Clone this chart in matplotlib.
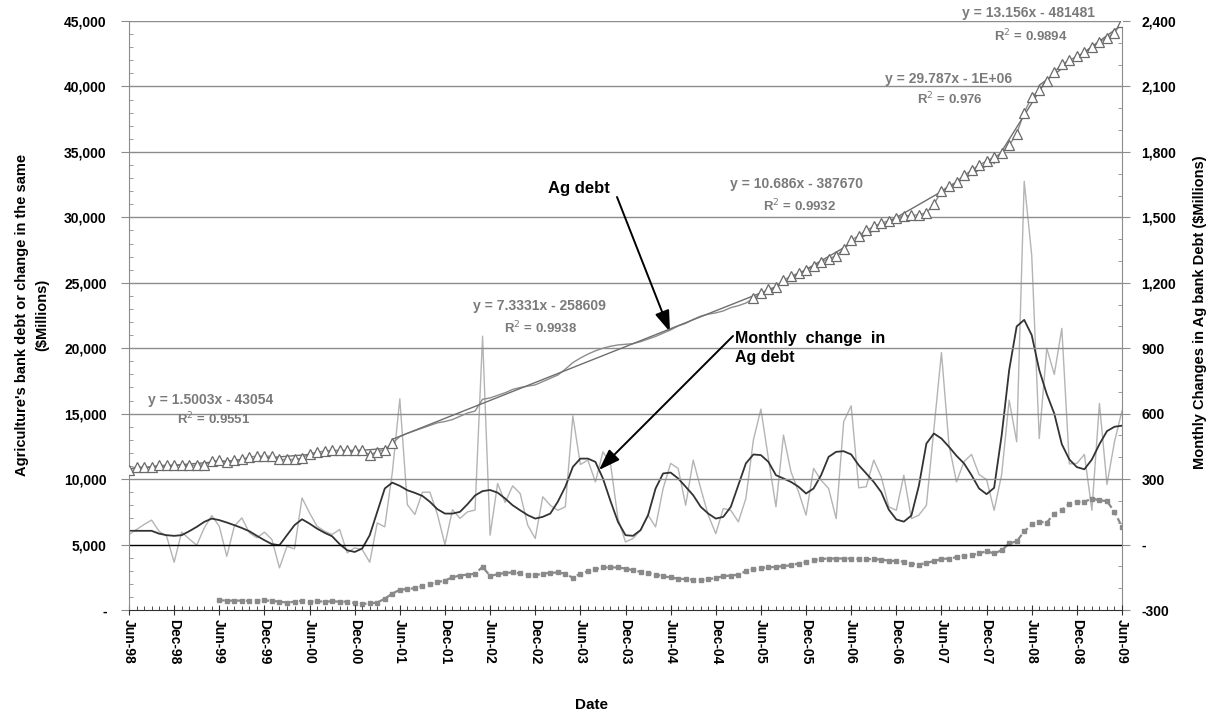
import numpy as np
import matplotlib
matplotlib.use("Agg")
import matplotlib.pyplot as plt
from matplotlib.ticker import MultipleLocator

plt.rcParams['font.family'] = ['Liberation Sans', 'DejaVu Sans']

# ---------------- data (monthly, Jun-98 .. Jun-09) ----------------
tick_labels = ['Jun-98', 'Dec-98', 'Jun-99', 'Dec-99', 'Jun-00', 'Dec-00', 'Jun-01', 'Dec-01',
               'Jun-02', 'Dec-02', 'Jun-03', 'Dec-03', 'Jun-04', 'Dec-04', 'Jun-05', 'Dec-05',
               'Jun-06', 'Dec-06', 'Jun-07', 'Dec-07', 'Jun-08', 'Dec-08', 'Jun-09']

ag_debt = [10700, 10950, 10900, 10950, 11050, 11050, 11050, 11050, 11050, 11050,
           11100, 11350, 11450, 11300, 11450, 11500, 11700, 11750, 11750, 11750,
           11500, 11500, 11500, 11600, 11950, 12050, 12150, 12200, 12200, 12200,
           12200, 12200, 11850, 12100, 12250, 12750, 13250, 13500, 13700, 13900,
           14100, 14300, 14400, 14550, 14800, 15050, 15200, 16100, 16200, 16400,
           16600, 16850, 17000, 17100, 17200, 17450, 17700, 17950, 18400, 18900,
           19250, 19550, 19800, 20000, 20150, 20250, 20300, 20350, 20500, 20700,
           20900, 21150, 21400, 21700, 21900, 22200, 22450, 22600, 22700, 22850,
           23100, 23250, 23450, 23800, 24200, 24500, 24700, 25200, 25500, 25750,
           25950, 26250, 26550, 26850, 27050, 27600, 28250, 28600, 29000, 29300,
           29550, 29750, 29950, 30100, 30150, 30200, 30350, 31000, 32000, 32400,
           32700, 33200, 33600, 34000, 34300, 34600, 34900, 35500, 36400, 38000,
           39200, 39700, 40400, 41100, 41700, 42000, 42300, 42600, 43000, 43400,
           43700, 44100, 44900]

monthly_change = [46, 69, 92, 112, 61, 38, -81, 57, 26, -3,
                  76, 133, 84, -54, 84, 122, 54, 31, 57, 23,
                  -107, -8, -20, 214, 145, 84, 61, 46, 69, -38,
                  -15, -23, -81, 99, 81, 330, 668, 183, 138, 240,
                  240, 138, 0, 160, 120, 150, 158, 955, 43, 280,
                  193, 269, 234, 89, 28, 219, 180, 157, 173, 590,
                  367, 387, 287, 425, 372, 119, 12, 28, 66, 135,
                  81, 257, 372, 349, 180, 387, 257, 135, 50, 165,
                  157, 104, 211, 479, 621, 394, 173, 502, 333, 242,
                  135, 349, 295, 257, 119, 563, 636, 260, 265, 387,
                  310, 173, 157, 318, 119, 135, 180, 532, 880, 456,
                  287, 380, 413, 321, 298, 157, 320, 662, 471, 1665,
                  1326, 486, 900, 780, 991, 370, 372, 413, 157, 647,
                  275, 471, 613]

change_smoothed = [63, 63, 63, 63, 50, 43, 40, 43, 61, 81,
                   104, 119, 112, 101, 89, 76, 61, 40, 20, 2,
                   -3, 43, 89, 116, 96, 73, 54, 38, 2, -26,
                   -34, -18, 43, 150, 257, 284, 269, 249, 237, 223,
                   196, 162, 142, 142, 150, 185, 225, 245, 250, 238,
                   211, 180, 157, 135, 119, 127, 142, 196, 265, 356,
                   394, 394, 379, 303, 200, 104, 43, 40, 66, 135,
                   257, 326, 330, 303, 265, 226, 173, 142, 119, 127,
                   173, 272, 372, 413, 410, 379, 318, 303, 287, 265,
                   234, 257, 318, 402, 425, 428, 413, 364, 326, 287,
                   240, 160, 115, 105, 133, 270, 463, 509, 486, 448,
                   407, 372, 318, 257, 231, 260, 500, 800, 1000, 1030,
                   960, 800, 690, 600, 460, 390, 355, 345, 390, 460,
                   520, 540, 545]

# 12-month series (starts Jun-99)
change_12m_start = 12
change_12m = [-255, -257, -257, -257, -258, -257, -256, -258, -262, -266,
              -262, -258, -262, -260, -262, -260, -262, -262, -268, -272,
              -270, -266, -248, -225, -207, -204, -200, -190, -180, -172,
              -165, -150, -142, -138, -134, -102, -144, -136, -130, -128,
              -132, -138, -141, -133, -130, -128, -133, -153, -133, -122,
              -113, -105, -105, -105, -110, -118, -125, -130, -138, -145,
              -151, -156, -159, -161, -162, -159, -153, -145, -142, -138,
              -122, -113, -107, -105, -102, -99, -95, -87, -80, -72,
              -66, -64, -64, -64, -64, -66, -67, -67, -69, -74,
              -76, -78, -88, -92, -84, -76, -66, -64, -58, -52,
              -48, -41, -30, -41, -26, 5, 15, 60, 92, 104,
              101, 142, 157, 188, 196, 196, 211, 203, 199, 150,
              81]

# trend segments (first month index, last month index) and their labels
trend_segments = [(0, 35), (35, 84), (84, 115), (115, 122), (121, 132)]
trend_eq = ['y = 1.5003x - 43054', 'y = 7.3331x - 258609', 'y = 10.686x - 387670',
            'y = 29.787x - 1E+06', 'y = 13.156x - 481481']
trend_r2 = ['0.9551', '0.9938', '0.9932', '0.976', '0.9894']

# months with triangle markers
marker_ranges = [(0, 35), (83, 132)]

# ---------------- figure ----------------
W, H = 1218, 722
fig = plt.figure(figsize=(W / 100, H / 100), dpi=100)
ax = fig.add_axes([129 / W, 1 - 610 / H, (1122 - 129) / W, (610 - 21) / H])
ax2 = ax.twinx()

n = len(ag_debt)
x = np.arange(n)

GRID = '#8c8c8c'
for v in range(5000, 45001, 5000):
    ax.axhline(v, color='black' if v == 5000 else GRID, lw=1.0, zorder=0.5)

# monthly change (right axis)
ax2.plot(x, monthly_change, color='#b4b4b4', lw=1.0, zorder=2)
ax2.plot(x, change_smoothed, color='#333333', lw=1.3, zorder=3)
x12 = np.arange(change_12m_start, change_12m_start + len(change_12m))
ax2.plot(x12, change_12m, color='#8a8a8a', lw=1.6, ls=(0, (2.5, 1.5)), marker='s',
         ms=3.5, mfc='#8a8a8a', mec='#8a8a8a', zorder=3)

ax.set_zorder(ax2.get_zorder() + 1)
ax.patch.set_visible(False)
ax2.patch.set_visible(True)

ag = np.array(ag_debt, dtype=float)
ax.plot(x, ag, color='#8c8c8c', lw=1.0, zorder=3)
for a, b in marker_ranges:
    ax.plot(x[a:b + 1], ag[a:b + 1], ls='none', marker='^', ms=6.5, mfc='white',
            mec='#6a6a6a', mew=0.9, zorder=4)
for a, b in trend_segments:
    xs = x[a:b + 1]
    coef = np.polyfit(xs, ag[a:b + 1], 1)
    ax.plot(xs, np.polyval(coef, xs), color='#6e6e6e', lw=1.0, zorder=3.5)

# trendline labels
eq_pos = [(211, 400, 214, 419), (539, 306, 541, 328), (797, 184, 800, 206),
          (949, 79, 950, 99), (1028, 13, 1031, 36)]
EQC = '#7a7a7a'
for (ex, ey, rx, ry), eq, r2 in zip(eq_pos, trend_eq, trend_r2):
    fig.text(ex / W, 1 - ey / H, eq, color=EQC, fontsize=10, fontweight='bold',
             ha='center', va='center')
    fig.text(rx / W, 1 - ry / H, r'R$^{2}$ = ' + r2, color=EQC, fontsize=9.5,
             fontweight='bold', ha='center', va='center')

# annotations
fig.text(579 / W, 1 - 188 / H, 'Ag debt', fontsize=12, fontweight='bold',
         ha='center', va='center')
ax.annotate('', xy=(670 / W, 1 - 332 / H), xytext=(617 / W, 1 - 197 / H),
            xycoords='figure fraction', textcoords='figure fraction',
            arrowprops=dict(arrowstyle='-|>,head_length=1.3,head_width=0.45', color='black',
                            lw=1.4, shrinkA=0, shrinkB=0))
fig.text(735 / W, 1 - 348 / H, 'Monthly  change  in\nAg debt', fontsize=11.5,
         fontweight='bold', ha='left', va='center', linespacing=1.35)
ax.annotate('', xy=(599 / W, 1 - 470 / H), xytext=(733 / W, 1 - 336 / H),
            xycoords='figure fraction', textcoords='figure fraction',
            arrowprops=dict(arrowstyle='-|>,head_length=1.3,head_width=0.45', color='black',
                            lw=1.4, shrinkA=0, shrinkB=0))

# ---------------- axes ----------------
ax.set_xlim(0, n - 1)
ax.set_ylim(0, 45000)
ax2.set_ylim(-300, 2400)

l_ticks = list(range(0, 45001, 5000))
ax.set_yticks(l_ticks)
ax.set_yticklabels(['-' if v == 0 else f'{v:,}' for v in l_ticks])
ax.yaxis.set_minor_locator(MultipleLocator(1000))

r_ticks = list(range(-300, 2401, 300))
ax2.set_yticks(r_ticks)
ax2.set_yticklabels(['-' if v == 0 else f'{v:,}' for v in r_ticks])
ax2.yaxis.set_minor_locator(MultipleLocator(100))

ax.set_xticks(np.arange(0, n, 6))
ax.set_xticklabels(tick_labels, rotation=270)
ax.xaxis.set_minor_locator(MultipleLocator(1))

for a_ in (ax, ax2):
    for s in a_.spines.values():
        s.set_visible(False)
ax.spines['left'].set_visible(True)
ax.spines['left'].set_color(GRID)
ax.spines['bottom'].set_visible(True)
ax.spines['bottom'].set_color('#303030')
ax2.spines['right'].set_visible(True)
ax2.spines['right'].set_color(GRID)

ax.tick_params(axis='y', which='major', direction='out', length=6, color=GRID,
               pad=10, labelsize=10)
ax.tick_params(axis='y', which='minor', direction='in', length=3, color=GRID)
ax2.tick_params(axis='y', which='major', direction='out', length=6, color=GRID,
                pad=8, labelsize=10)
ax2.tick_params(axis='y', which='minor', direction='in', length=3, color=GRID)
ax.tick_params(axis='x', which='major', direction='inout', length=7, color='#303030',
               pad=3, labelsize=10)
ax.tick_params(axis='x', which='minor', direction='in', length=3, color='#303030')
for lab in ax.get_xticklabels() + ax.get_yticklabels() + ax2.get_yticklabels():
    lab.set_fontweight('bold')

fig.text(22 / W, 1 - 315 / H, "Agriculture's bank debt or change in the same",
         rotation=90, fontsize=10.5, fontweight='bold', ha='center', va='center')
fig.text(42 / W, 1 - 315 / H, "($Millions)", rotation=90, fontsize=10.5,
         fontweight='bold', ha='center', va='center')
fig.text(1200 / W, 1 - 312 / H, "Monthly Changes in Ag bank Debt ($Millions)",
         rotation=90, fontsize=10.5, fontweight='bold', ha='center', va='center')
fig.text(592 / W, 1 - 705 / H, "Date", fontsize=11, fontweight='bold',
         ha='center', va='center')

fig.savefig('out.png', dpi=100)
